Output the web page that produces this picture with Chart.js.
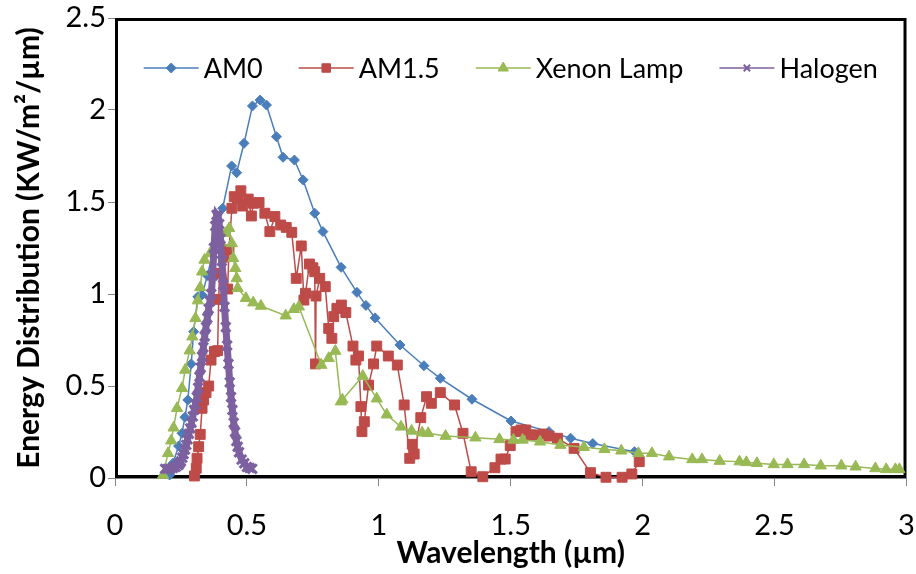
<!DOCTYPE html>
<html>
<head>
<meta charset="utf-8">
<script src="https://cdn.jsdelivr.net/npm/chart.js@4.4.0/dist/chart.umd.min.js"></script>
<style>
  html, body { margin: 0; padding: 0; background: #fff; }
  #chart { display: block; }
</style>
</head>
<body>
<canvas id="chart" width="916" height="574"></canvas>
<script>
// values (wavelength in µm, energy in KW/m²/µm)
const seriesNames = ["AM0", "AM1.5", "Xenon Lamp", "Halogen"];
const xTickLabels = ["0", "0.5", "1", "1.5", "2", "2.5", "3"];
const yTickLabels = ["0", "0.5", "1", "1.5", "2", "2.5"];

const am0X = [0.207, 0.22, 0.241, 0.254, 0.265, 0.276, 0.289, 0.298, 0.314, 0.33, 0.35, 0.37, 0.39, 0.408,
  0.442, 0.461, 0.489, 0.521, 0.55, 0.574, 0.612, 0.637, 0.68, 0.713, 0.757, 0.788, 0.857, 0.917, 0.951,
  0.986, 1.08, 1.171, 1.233, 1.353, 1.501, 1.645, 1.727, 1.811, 1.969];
const am0Y = [0.016, 0.08, 0.174, 0.243, 0.33, 0.424, 0.62, 0.795, 0.985, 0.995, 1.1, 1.22, 1.34, 1.466,
  1.696, 1.659, 1.819, 2.022, 2.054, 2.027, 1.855, 1.743, 1.728, 1.62, 1.439, 1.339, 1.145, 1.009, 0.938,
  0.87, 0.723, 0.61, 0.542, 0.428, 0.31, 0.252, 0.216, 0.187, 0.143];

const am15X = [0.301, 0.308, 0.311, 0.317, 0.323, 0.33, 0.336, 0.345, 0.355, 0.364, 0.377, 0.389, 0.393,
  0.396, 0.412, 0.427, 0.432, 0.443, 0.452, 0.465, 0.477, 0.484, 0.505, 0.517, 0.525, 0.546, 0.568, 0.587,
  0.606, 0.628, 0.649, 0.67, 0.687, 0.706, 0.716, 0.722, 0.737, 0.75, 0.757, 0.76, 0.762, 0.776, 0.797,
  0.81, 0.822, 0.829, 0.841, 0.858, 0.875, 0.902, 0.913, 0.923, 0.932, 0.936, 0.945, 0.961, 0.98, 0.992,
  1.036, 1.07, 1.096, 1.117, 1.127, 1.134, 1.159, 1.181, 1.199, 1.233, 1.287, 1.319, 1.35, 1.394, 1.44,
  1.463, 1.479, 1.498, 1.52, 1.539, 1.557, 1.576, 1.595, 1.623, 1.645, 1.677, 1.74, 1.802, 1.861, 1.922,
  1.959, 1.987];
const am15Y = [0.011, 0.053, 0.107, 0.17, 0.237, 0.379, 0.424, 0.464, 0.5, 0.641, 0.687, 0.692, 0.971,
  1.112, 1.2, 1.027, 1.24, 1.466, 1.529, 1.52, 1.561, 1.478, 1.516, 1.424, 1.493, 1.497, 1.439, 1.339,
  1.421, 1.375, 1.362, 1.335, 1.085, 1.261, 0.967, 1.004, 1.163, 1.143, 1.121, 0.62, 0.989, 1.085, 1.04,
  0.813, 0.759, 0.877, 0.922, 0.94, 0.899, 0.717, 0.641, 0.663, 0.388, 0.252, 0.306, 0.505, 0.62, 0.717,
  0.663, 0.614, 0.397, 0.107, 0.183, 0.13, 0.328, 0.442, 0.406, 0.464, 0.397, 0.243, 0.034, 0.007, 0.056,
  0.103, 0.103, 0.176, 0.252, 0.261, 0.261, 0.234, 0.234, 0.239, 0.228, 0.216, 0.161, 0.029, 0.004, 0.004,
  0.022, 0.089];

const xenonX = [0.182, 0.201, 0.213, 0.222, 0.235, 0.254, 0.266, 0.283, 0.293, 0.305, 0.314, 0.323, 0.33,
  0.339, 0.36, 0.38, 0.4, 0.42, 0.433, 0.443, 0.448, 0.456, 0.461, 0.465, 0.496, 0.524, 0.553, 0.647,
  0.678, 0.697, 0.782, 0.81, 0.835, 0.856, 0.862, 0.939, 0.992, 1.03, 1.084, 1.124, 1.164, 1.187, 1.253,
  1.366, 1.457, 1.51, 1.545, 1.611, 1.688, 1.777, 1.855, 1.919, 1.984, 2.035, 2.1, 2.188, 2.225, 2.292,
  2.367, 2.393, 2.433, 2.497, 2.549, 2.612, 2.675, 2.753, 2.807, 2.882, 2.923, 2.958, 2.973];
const xenonY = [0.016, 0.134, 0.203, 0.273, 0.379, 0.488, 0.587, 0.692, 0.768, 0.868, 0.964, 1.036, 1.121,
  1.185, 1.22, 1.25, 1.28, 1.33, 1.357, 1.275, 1.194, 1.14, 1.085, 1.031, 0.977, 0.953, 0.935, 0.882,
  0.917, 0.931, 0.614, 0.651, 0.69, 0.415, 0.425, 0.554, 0.431, 0.344, 0.278, 0.256, 0.246, 0.243, 0.228,
  0.219, 0.21, 0.207, 0.207, 0.197, 0.179, 0.167, 0.156, 0.148, 0.134, 0.134, 0.116, 0.101, 0.101, 0.092,
  0.089, 0.085, 0.08, 0.074, 0.074, 0.074, 0.067, 0.067, 0.061, 0.052, 0.047, 0.047, 0.047];

const halogenX = [0.19, 0.2, 0.21, 0.22, 0.23, 0.24, 0.245, 0.25, 0.255, 0.26, 0.265, 0.27, 0.275, 0.28,
  0.285, 0.29, 0.295, 0.3, 0.305, 0.31, 0.315, 0.32, 0.325, 0.33, 0.335, 0.34, 0.345, 0.35, 0.355, 0.36,
  0.365, 0.37, 0.375, 0.38, 0.385, 0.39, 0.395, 0.4, 0.405, 0.41, 0.415, 0.42, 0.425, 0.43, 0.435, 0.44,
  0.445, 0.45, 0.455, 0.46, 0.465, 0.47, 0.48, 0.49, 0.5, 0.51, 0.52];
const halogenY = [0.05, 0.05, 0.05, 0.055, 0.06, 0.07, 0.08, 0.09, 0.11, 0.13, 0.155, 0.18, 0.21, 0.24,
  0.27, 0.3, 0.335, 0.37, 0.4, 0.44, 0.49, 0.55, 0.6, 0.66, 0.71, 0.77, 0.82, 0.87, 0.92, 0.96,
  1.0, 1.1, 1.25, 1.37, 1.43, 1.42, 1.38, 1.3, 1.18, 1.05, 0.93, 0.82, 0.72, 0.62, 0.52, 0.44,
  0.37, 0.3, 0.25, 0.2, 0.17, 0.14, 0.1, 0.08, 0.06, 0.055, 0.05];

function toPoints(xs, ys) {
    return xs.map((x, i) => ({ x: x, y: ys[i] }));
}

function makeSeries(label, xs, ys, color, style, radius, legendRadius, order) {
    return {
        label: label,
        data: toPoints(xs, ys),
        showLine: true,
        borderColor: color,
        backgroundColor: color,
        borderWidth: 1.5,
        pointStyle: style,
        pointRadius: radius,
        pointBackgroundColor: color,
        pointBorderColor: color,
        pointBorderWidth: 1,
        legendRadius: legendRadius,
        tension: 0,
        clip: false,
        order: order
    };
}

const datasets = [
    makeSeries(seriesNames[0], am0X, am0Y, "#4A7EBB", "rectRot", 5, 5, 4),
    makeSeries(seriesNames[1], am15X, am15Y, "#BE4B48", "rect", 7, 6, 3),
    makeSeries(seriesNames[2], xenonX, xenonY, "#98B954", "triangle", 6.5, 6, 2),
    makeSeries(seriesNames[3], halogenX, halogenY, "#7D60A0", "crossRot", 6.5, 4.5, 1)
];
// the halogen curve is a dense run of markers, so it shows as a thick band
datasets[3].borderWidth = 7;
datasets[3].pointBorderWidth = 3;

// black frame round the plot area, drawn under the series
const plotFrame = {
    id: "plotFrame",
    beforeDatasetsDraw(chart) {
        const a = chart.chartArea;
        const ctx = chart.ctx;
        ctx.save();
        ctx.strokeStyle = "#000";
        ctx.lineWidth = 3;
        ctx.strokeRect(a.left + 1.5, a.top + 1.5, a.right - a.left - 3, a.bottom - a.top - 3);
        ctx.restore();
    }
};

// Excel style legend: line with marker, inside the plot at the top
const lineLegend = {
    id: "lineLegend",
    afterDraw(chart) {
        const ctx = chart.ctx;
        const a = chart.chartArea;
        const sets = chart.data.datasets;
        const lineLen = 55, textGap = 5, itemGap = 36;
        ctx.save();
        ctx.font = "27px Lato";
        const widths = sets.map(ds => lineLen + textGap + ctx.measureText(ds.label).width);
        const total = widths.reduce((s, w) => s + w, 0) + itemGap * (sets.length - 1);
        let x = (a.left + a.right) / 2 - total / 2;
        const y = a.top + 50;
        sets.forEach((ds, i) => {
            ctx.strokeStyle = ds.borderColor;
            ctx.lineWidth = 1.5;
            ctx.beginPath();
            ctx.moveTo(x, y);
            ctx.lineTo(x + lineLen, y);
            ctx.stroke();
            ctx.fillStyle = ds.pointBackgroundColor;
            ctx.strokeStyle = ds.pointBorderColor;
            ctx.lineWidth = ds.pointStyle === "crossRot" ? 2 : 1;
            Chart.helpers.drawPoint(ctx, {
                pointStyle: ds.pointStyle,
                radius: ds.legendRadius,
                rotation: 0,
                borderWidth: ctx.lineWidth
            }, x + lineLen / 2, y);
            ctx.fillStyle = "#000";
            ctx.textAlign = "left";
            ctx.textBaseline = "middle";
            ctx.fillText(ds.label, x + lineLen + textGap, y + 1);
            x += widths[i] + itemGap;
        });
        ctx.restore();
    }
};

const tickFont = { family: "Lato", size: 29 };
const titleFont = { family: "Lato", size: 30, weight: "bold" };

new Chart(document.getElementById("chart"), {
    type: "scatter",
    data: { datasets: datasets },
    options: {
        responsive: false,
        animation: false,
        devicePixelRatio: 1,
        layout: { padding: { left: 0, right: 5, top: 18, bottom: 0 } },
        plugins: {
            legend: { display: false },
            tooltip: { enabled: false }
        },
        scales: {
            x: {
                type: "linear",
                position: "bottom",
                min: 0,
                max: 3,
                ticks: {
                    stepSize: 0.5,
                    autoSkip: false,
                    maxRotation: 0,
                    color: "#000",
                    font: tickFont,
                    padding: 22,
                    callback: (v, i) => xTickLabels[i]
                },
                grid: { drawOnChartArea: false, drawTicks: true, tickLength: 8, color: "#868686" },
                border: { display: true, color: "#868686", width: 1 },
                title: {
                    display: true,
                    text: "Wavelength (µm)",
                    color: "#000",
                    font: titleFont,
                    padding: { top: 0, bottom: 3 }
                },
                afterFit: (s) => {
                    s.height = 96;
                    s.paddingLeft = 0;
                    s.paddingRight = 0;
                }
            },
            y: {
                type: "linear",
                min: 0,
                max: 2.5,
                ticks: {
                    stepSize: 0.5,
                    color: "#000",
                    font: tickFont,
                    padding: 2,
                    callback: (v, i) => yTickLabels[i]
                },
                grid: { drawOnChartArea: false, drawTicks: true, tickLength: 7, color: "#868686" },
                border: { display: true, color: "#868686", width: 1 },
                title: {
                    display: true,
                    text: "Energy Distribution (KW/m²/µm)",
                    color: "#000",
                    font: titleFont,
                    padding: { top: 11, bottom: 0 }
                },
                afterFit: (s) => {
                    s.width = 115;
                    s.paddingTop = 0;
                    s.paddingBottom = 0;
                }
            }
        }
    },
    plugins: [plotFrame, lineLegend]
});
</script>
</body>
</html>
